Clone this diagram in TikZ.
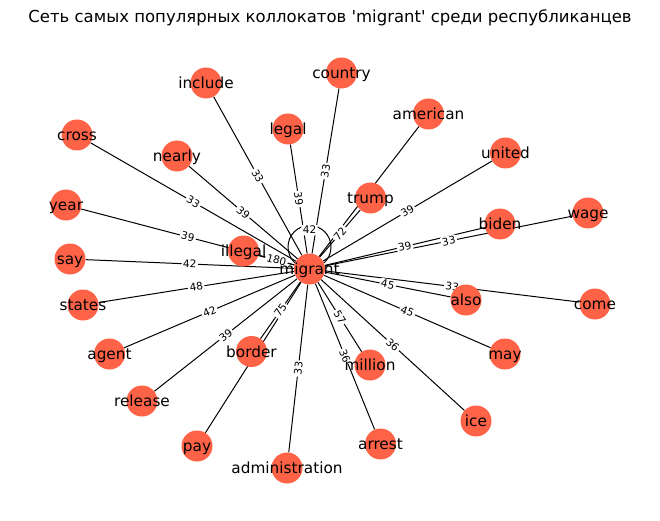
\documentclass[tikz,border=0pt]{standalone}
\usepackage{fontspec}
\setmainfont{DejaVu Sans}
\usetikzlibrary{backgrounds}
\definecolor{tomato}{HTML}{FF6347}

\begin{document}
\begin{tikzpicture} [x=1pt, y=-1pt,
  vert/.style={circle, fill=tomato, minimum size=31pt, inner sep=0pt},
  vlab/.style={font=\fontsize{15.3}{15.3}\selectfont, text height=11pt, text depth=3pt, inner sep=0pt, yshift=-1.5pt},
  elab/.style={fill=white, rounded corners=2pt, inner sep=1.5pt, font=\fontsize{10.5}{10.5}\selectfont},
  edge/.style={black, line width=1pt}]
\useasboundingbox (0,0) rectangle (660,521);
\node (title) at (330,18) {\fontsize{16.5}{16.5}\selectfont Сеть самых популярных коллокатов \textquotesingle migrant\textquotesingle\ среди республиканцев};
\foreach \n/\x/\y in {migrant/309.5/269, include/206/83, country/341.5/73, legal/288/129,
  american/428.5/114, cross/77/135, nearly/177/156, united/505.5/153, trump/370.5/198,
  year/66/205, wage/588/213, biden/500/224, illegal/243.5/251, say/70/259, states/83/305,
  also/466/300, come/595/304, agent/109.5/354, border/251.5/351.5, may/505/354,
  million/370/365, release/142/401, ice/476/421, pay/197/446, arrest/380.5/444,
  administration/287/468}
 \node[vert, label={[vlab]center:\n}] (\n) at (\x,\y) {};
\begin{scope}[on background layer]
\foreach \n in {include, country, legal, american, cross, nearly, united, trump, year, wage,
  biden, illegal, say, states, also, come, agent, border, may, million, release, ice, pay,
  arrest, administration}
 \draw[edge] (migrant) -- (\n);
\draw[edge] (migrant.center) ++(0,-22) circle[radius=21.5pt];
\foreach \n/\w in {include/33, country/33, legal/39, cross/33, nearly/39, united/39, trump/72,
  year/39, wage/33, biden/39, illegal/180, say/42, states/48, also/45, come/33, agent/42,
  border/75, may/45, million/57, release/39, ice/36, arrest/36, administration/33}
 \path (migrant) -- (\n) node[elab, midway, sloped] {\w};
\path (migrant.center) ++(0,-39) node[elab] (loop) {42};
\end{scope}
\end{tikzpicture}
\end{document}
